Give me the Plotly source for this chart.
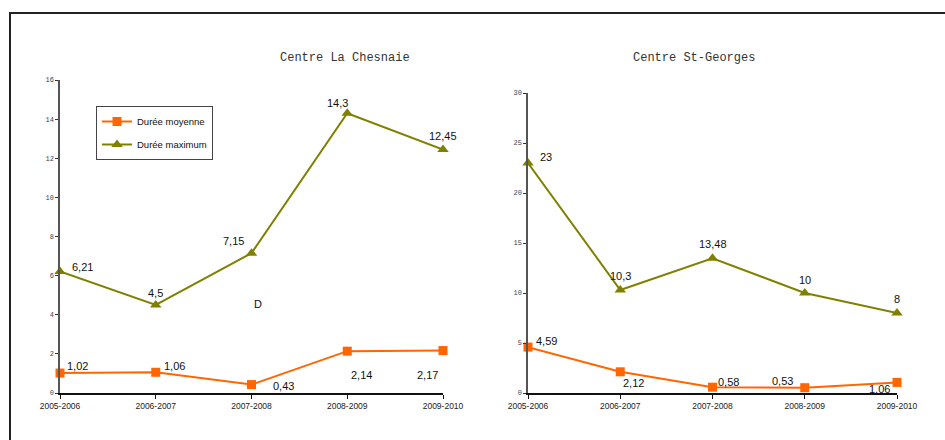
import plotly.graph_objects as go

categories = ["2005-2006", "2006-2007", "2007-2008", "2008-2009", "2009-2010"]
chesnaie_moy = [1.02, 1.06, 0.43, 2.14, 2.17]
chesnaie_max = [6.21, 4.5, 7.15, 14.3, 12.45]
stgeorges_moy = [4.59, 2.12, 0.58, 0.53, 1.06]
stgeorges_max = [23, 10.3, 13.48, 10, 8]

# label pixel offsets (dx, dy screen, dy positive = down)
off_ch_moy = [(17, -7), (19, -6), (32, 1), (14, 24), (-16, 24)]
off_ch_max = [(22, -5), (0, -12), (-18, -12), (-10, -10), (0, -13)]
off_sg_moy = [(18, -6), (13, 11), (16, -5), (-22, -7), (-18, 7)]
off_sg_max = [(18, -6), (0, -14), (0, -14), (0, -13), (0, -14)]

ORANGE = "#FF6600"
OLIVE = "#808000"
W, H = 945, 440

fig = go.Figure()

def add(x, y, name, color, symbol, size, xa, ya, showlegend, group):
    fig.add_trace(go.Scatter(
        x=x, y=y, name=name, mode="lines+markers",
        line=dict(color=color, width=2),
        marker=dict(symbol=symbol, size=size, color=color),
        xaxis=xa, yaxis=ya, showlegend=showlegend, legendgroup=group,
        cliponaxis=False, hoverinfo="skip"))

add(categories, chesnaie_moy, "Durée moyenne", ORANGE, "square", 9, "x", "y", True, "a")
add(categories, chesnaie_max, "Durée maximum", OLIVE, "triangle-up", 10, "x", "y", True, "b")
add(categories, stgeorges_moy, "Durée moyenne", ORANGE, "square", 9, "x2", "y2", False, "a")
add(categories, stgeorges_max, "Durée maximum", OLIVE, "triangle-up", 10, "x2", "y2", False, "b")

def fmt(v):
    return ("%g" % v).replace(".", ",")

annotations = []
def labels(vals, offs, xr, yr):
    for c, v, (dx, dy) in zip(categories, vals, offs):
        annotations.append(dict(
            x=c, y=v, xref=xr, yref=yr, text=fmt(v), showarrow=False,
            xshift=dx, yshift=-dy,
            font=dict(family="Liberation Sans, Arial", size=11, color="#111")))

labels(chesnaie_moy, off_ch_moy, "x", "y")
labels(chesnaie_max, off_ch_max, "x", "y")
labels(stgeorges_moy, off_sg_moy, "x2", "y2")
labels(stgeorges_max, off_sg_max, "x2", "y2")

annotations.append(dict(x="2007-2008", y=4.55, xref="x", yref="y", text="D",
                        showarrow=False, xshift=6,
                        font=dict(family="Liberation Sans, Arial", size=11, color="#111")))

title_font = dict(family="Courier New, Liberation Mono", size=12, color="#333")
annotations.append(dict(x=277.5 / W, y=(H - 49) / H, xref="paper", yref="paper",
                        text="Centre La Chesnaie", showarrow=False, font=title_font))
annotations.append(dict(x=757 / W, y=(H - 49) / H, xref="paper", yref="paper",
                        text="Centre St-Georges", showarrow=False, font=title_font))

xaxis_common = dict(
    type="category", range=[0, 4], showgrid=False, zeroline=False, automargin=False,
    showline=True, linecolor="#111", linewidth=1.5,
    ticks="outside", ticklen=4, tickcolor="#111", tickwidth=1,
    tickfont=dict(family="Liberation Sans, Arial", size=8.5, color="#222"),
    fixedrange=True)
yaxis_common = dict(
    showgrid=False, zeroline=False, showline=True, linecolor="#555", linewidth=1.5,
    automargin=False,
    ticks="outside", ticklen=3, tickcolor="#333", tickwidth=1,
    tickfont=dict(family="Liberation Mono, Courier New", size=7, color="#444"),
    fixedrange=True)

y0 = (H - 393) / H
fig.update_layout(
    template="none",
    width=W, height=H, autosize=False,
    margin=dict(l=0, r=0, t=0, b=0, pad=0, autoexpand=False),
    paper_bgcolor="white", plot_bgcolor="white",
    xaxis=dict(xaxis_common, domain=[60 / W, 443 / W], anchor="y"),
    yaxis=dict(yaxis_common, domain=[y0, (H - 80) / H], range=[0, 16], dtick=2, anchor="x"),
    xaxis2=dict(xaxis_common, domain=[528 / W, 897 / W], anchor="y2"),
    yaxis2=dict(yaxis_common, domain=[y0, (H - 93) / H], range=[0, 30], dtick=5, anchor="x2"),
    annotations=annotations,
    legend=dict(
        x=96 / W, y=(H - 106) / H, xanchor="left", yanchor="top",
        bordercolor="#444", borderwidth=1, bgcolor="white",
        font=dict(family="Liberation Sans, Arial", size=9.5, color="#111"),
        itemwidth=30, traceorder="grouped", tracegroupgap=4),
    shapes=[dict(type="rect", xref="paper", yref="paper",
                 x0=10 / W, x1=1.02, y0=-0.02, y1=(H - 13) / H,
                 line=dict(color="#222", width=2), layer="below")],
)

fig.write_html("out.html")
